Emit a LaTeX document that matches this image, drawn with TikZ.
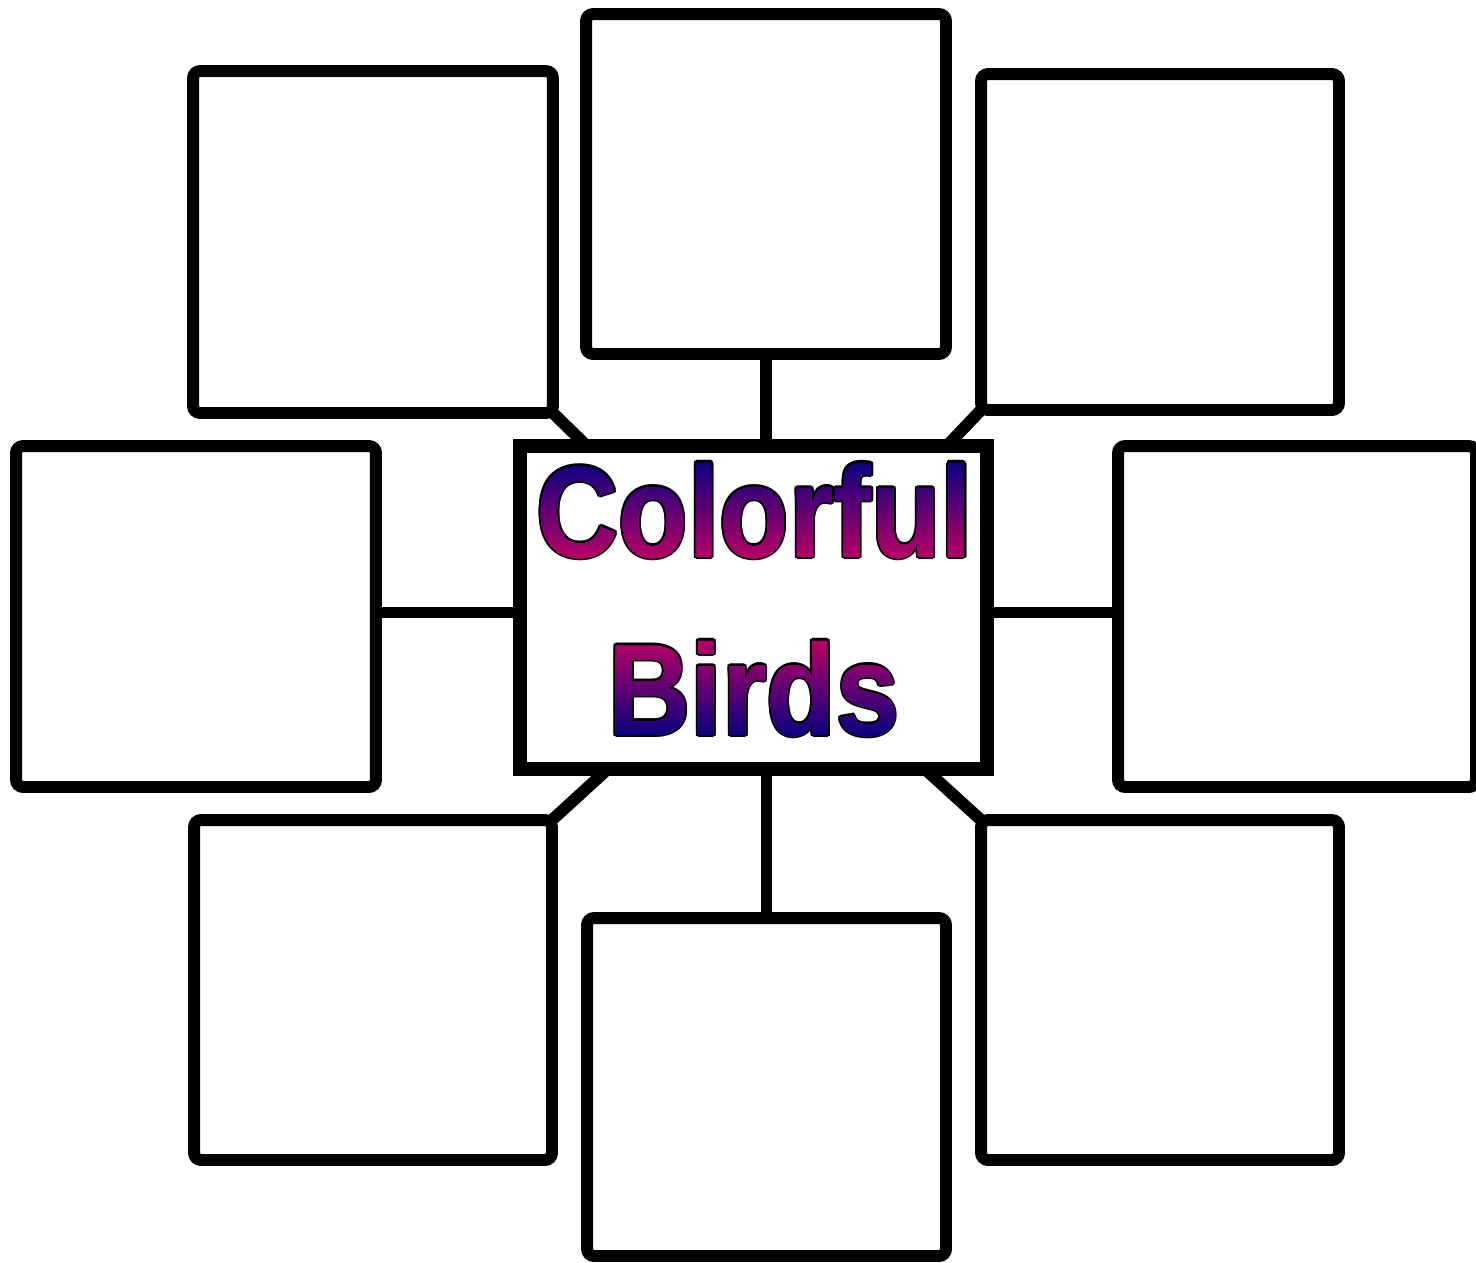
\documentclass[tikz,border=0pt]{standalone}
\usepackage{fontspec}
\usetikzlibrary{calc}
\newfontfamily\artfont{Liberation Sans}[FakeStretch=0.875]
\definecolor{artblue}{RGB}{16,0,128}
\definecolor{artpink}{RGB}{178,0,102}

\begin{document}
\begin{tikzpicture}[x=0.02cm,y=-0.02cm,
  box/.style={draw,fill=white,line width=6.8pt,rounded corners=4pt,
              inner sep=0pt,outer sep=0pt},
  hub/.style={draw,fill=white,line width=8pt,inner sep=0pt,outer sep=0pt,
              minimum width=9.34cm,minimum height=6.46cm},
  link/.style={line width=6.8pt},
  art/.style={font={\artfont\bfseries\fontsize{74}{80}\selectfont},
              inner sep=0pt,anchor=base}]
  \useasboundingbox (0,0) rectangle (1476,1262);
  \clip (0,0) rectangle (1476,1262);

  \node[box,minimum width=7.2cm,minimum height=6.84cm]  (tl) at (373,242) {};
  \node[box,minimum width=7.2cm,minimum height=6.8cm]   (tc) at (766,184) {};
  \node[box,minimum width=7.16cm,minimum height=6.72cm] (tr) at (1160,242) {};
  \node[box,minimum width=7.2cm,minimum height=6.82cm]  (ml) at (196,616.5) {};
  \node[box,minimum width=7.16cm,minimum height=6.82cm] (mr) at (1297,616.5) {};
  \node[box,minimum width=7.16cm,minimum height=6.8cm]  (bl) at (373,990) {};
  \node[box,minimum width=7.18cm,minimum height=6.76cm] (bc) at (766.5,1087) {};
  \node[box,minimum width=7.16cm,minimum height=6.8cm]  (br) at (1160,990) {};
  \node[hub] (hub) at (753.5,607.5) {};

  \draw[link] (tc.south) -- (tc.south |- hub.north);
  \draw[link] (bc.north) -- (bc.north |- hub.south);
  \draw[link] ([yshift=0.08cm]ml.east) -- ([yshift=0.08cm]ml.east -| hub.west);
  \draw[link] ([yshift=0.08cm]mr.west) -- ([yshift=0.08cm]mr.west -| hub.east);
  \draw[link] (tl.south east) -- ($(hub.north west)!0.143!(hub.north east)$);
  \draw[link] (tr.south west) -- ($(hub.north west)!0.914!(hub.north east)$);
  \draw[link] (bl.north east) -- ($(hub.south west)!0.188!(hub.south east)$);
  \draw[link] (br.north west) -- ($(hub.south west)!0.867!(hub.south east)$);

  \coordinate (colbase) at (754.5,557);
  \coordinate (birdbase) at (754,735);
  \foreach \a in {0,30,...,330} {
    \node[art,text=black] (colout\a) at ($(colbase)+(\a:2.1)$) {Colorful};
    \node[art,text=black] (birdout\a) at ($(birdbase)+(\a:2.1)$) {Birds};
  }
  \foreach \i [evaluate=\i as \yt using {\i==0 ? 440 : 463+\i*94/24},
               evaluate=\i as \pct using {int(100*\i/23)}] in {0,...,23} {
    \begin{scope}
      \clip (500,\yt) rectangle (1000,580);
      \node[art,text=artpink!\pct!artblue] (col\i) at (colbase) {Colorful};
    \end{scope}
  }
  \foreach \i [evaluate=\i as \yt using {\i==0 ? 620 : 642+\i*93/24},
               evaluate=\i as \pct using {int(100*\i/23)}] in {0,...,23} {
    \begin{scope}
      \clip (500,\yt) rectangle (1000,760);
      \node[art,text=artblue!\pct!artpink] (bird\i) at (birdbase) {Birds};
    \end{scope}
  }
\end{tikzpicture}
\end{document}
